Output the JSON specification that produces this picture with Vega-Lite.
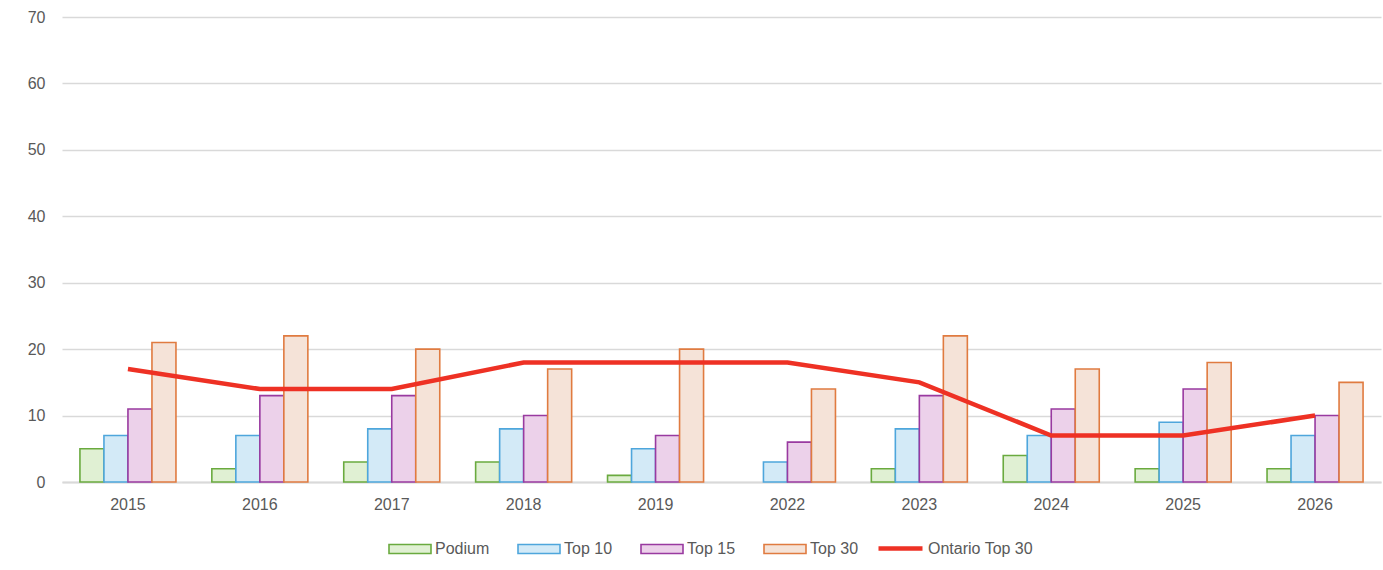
{
  "$schema": "https://vega.github.io/schema/vega-lite/v6.json",
  "width": 1319,
  "height": 465,
  "autosize": {"type": "none"},
  "padding": {"left": 62, "top": 17, "right": 2, "bottom": 88},
  "background": "white",
  "config": {
    "view": {"stroke": null},
    "font": "Liberation Sans",
    "axis": {"labelFont": "Liberation Sans", "labelColor": "#595959", "labelFontSize": 16},
    "legend": {"labelFont": "Liberation Sans", "labelColor": "#595959", "labelFontSize": 16}
  },
  "datasets": {
    "bars": [
      {"year": "2015", "series": "Podium", "value": 5},
      {"year": "2015", "series": "Top 10", "value": 7},
      {"year": "2015", "series": "Top 15", "value": 11},
      {"year": "2015", "series": "Top 30", "value": 21},
      {"year": "2016", "series": "Podium", "value": 2},
      {"year": "2016", "series": "Top 10", "value": 7},
      {"year": "2016", "series": "Top 15", "value": 13},
      {"year": "2016", "series": "Top 30", "value": 22},
      {"year": "2017", "series": "Podium", "value": 3},
      {"year": "2017", "series": "Top 10", "value": 8},
      {"year": "2017", "series": "Top 15", "value": 13},
      {"year": "2017", "series": "Top 30", "value": 20},
      {"year": "2018", "series": "Podium", "value": 3},
      {"year": "2018", "series": "Top 10", "value": 8},
      {"year": "2018", "series": "Top 15", "value": 10},
      {"year": "2018", "series": "Top 30", "value": 17},
      {"year": "2019", "series": "Podium", "value": 1},
      {"year": "2019", "series": "Top 10", "value": 5},
      {"year": "2019", "series": "Top 15", "value": 7},
      {"year": "2019", "series": "Top 30", "value": 20},
      {"year": "2022", "series": "Podium", "value": 0},
      {"year": "2022", "series": "Top 10", "value": 3},
      {"year": "2022", "series": "Top 15", "value": 6},
      {"year": "2022", "series": "Top 30", "value": 14},
      {"year": "2023", "series": "Podium", "value": 2},
      {"year": "2023", "series": "Top 10", "value": 8},
      {"year": "2023", "series": "Top 15", "value": 13},
      {"year": "2023", "series": "Top 30", "value": 22},
      {"year": "2024", "series": "Podium", "value": 4},
      {"year": "2024", "series": "Top 10", "value": 7},
      {"year": "2024", "series": "Top 15", "value": 11},
      {"year": "2024", "series": "Top 30", "value": 17},
      {"year": "2025", "series": "Podium", "value": 2},
      {"year": "2025", "series": "Top 10", "value": 9},
      {"year": "2025", "series": "Top 15", "value": 14},
      {"year": "2025", "series": "Top 30", "value": 18},
      {"year": "2026", "series": "Podium", "value": 2},
      {"year": "2026", "series": "Top 10", "value": 7},
      {"year": "2026", "series": "Top 15", "value": 10},
      {"year": "2026", "series": "Top 30", "value": 15}
    ],
    "line": [
      {"year": "2015", "series": "Ontario Top 30", "value": 17},
      {"year": "2016", "series": "Ontario Top 30", "value": 14},
      {"year": "2017", "series": "Ontario Top 30", "value": 14},
      {"year": "2018", "series": "Ontario Top 30", "value": 18},
      {"year": "2019", "series": "Ontario Top 30", "value": 18},
      {"year": "2022", "series": "Ontario Top 30", "value": 18},
      {"year": "2023", "series": "Ontario Top 30", "value": 15},
      {"year": "2024", "series": "Ontario Top 30", "value": 7},
      {"year": "2025", "series": "Ontario Top 30", "value": 7},
      {"year": "2026", "series": "Ontario Top 30", "value": 10}
    ]
  },
  "encoding": {
    "x": {
      "field": "year",
      "type": "nominal",
      "sort": null,
      "scale": {"paddingInner": 0.272, "paddingOuter": 0.136},
      "axis": {"title": null, "labelAngle": 0, "ticks": false, "domain": true, "domainColor": "#d9d9d9", "domainWidth": 2, "labelPadding": 14, "grid": false}
    },
    "y": {
      "field": "value",
      "type": "quantitative",
      "scale": {"domain": [0, 70], "nice": false},
      "axis": {"title": null, "values": [0, 10, 20, 30, 40, 50, 60, 70], "ticks": false, "domain": false, "gridColor": "#d9d9d9", "gridWidth": 1.5, "labelPadding": 17}
    }
  },
  "layer": [
    {
      "data": {"name": "bars"},
      "mark": {"type": "bar", "strokeWidth": 1.6},
      "encoding": {
        "xOffset": {"field": "series", "type": "nominal", "scale": {"domain": ["Podium", "Top 10", "Top 15", "Top 30"], "paddingInner": 0, "paddingOuter": 0}},
        "fill": {
          "field": "series",
          "type": "nominal",
          "scale": {"domain": ["Podium", "Top 10", "Top 15", "Top 30"], "range": ["#e0f0d3", "#d3eaf7", "#ecd1ea", "#f5e3d8"]},
          "legend": {
            "orient": "none", "legendX": 326, "legendY": 510, "direction": "horizontal", "title": null,
            "symbolType": "M-1,-0.214H1V0.214H-1Z", "symbolSize": 1764, "symbolStrokeWidth": 1.6,
            "columnPadding": 24, "labelOffset": 3, "symbolOpacity": 1,
            "symbolStrokeColor": {"expr": "datum.value === 'Podium' ? '#6aaa3f' : datum.value === 'Top 10' ? '#4ea6dc' : datum.value === 'Top 15' ? '#993aa0' : '#e07b40'"}
          }
        },
        "stroke": {
          "condition": [
            {"test": "datum.value === 0", "value": "transparent"},
            {"test": "datum.series === 'Podium'", "value": "#6aaa3f"},
            {"test": "datum.series === 'Top 10'", "value": "#4ea6dc"},
            {"test": "datum.series === 'Top 15'", "value": "#993aa0"}
          ],
          "value": "#e07b40"
        }
      }
    },
    {
      "data": {"name": "line"},
      "mark": {"type": "line", "strokeWidth": 4.5, "strokeCap": "butt"},
      "encoding": {
        "stroke": {
          "field": "series",
          "type": "nominal",
          "scale": {"domain": ["Ontario Top 30"], "range": ["#ee3124"]},
          "legend": {"orient": "none", "legendX": 814, "legendY": 507, "title": null, "symbolType": "M-1,0H1", "symbolSize": 1936, "symbolStrokeWidth": 4.5, "labelOffset": 3}
        }
      }
    }
  ]
}
